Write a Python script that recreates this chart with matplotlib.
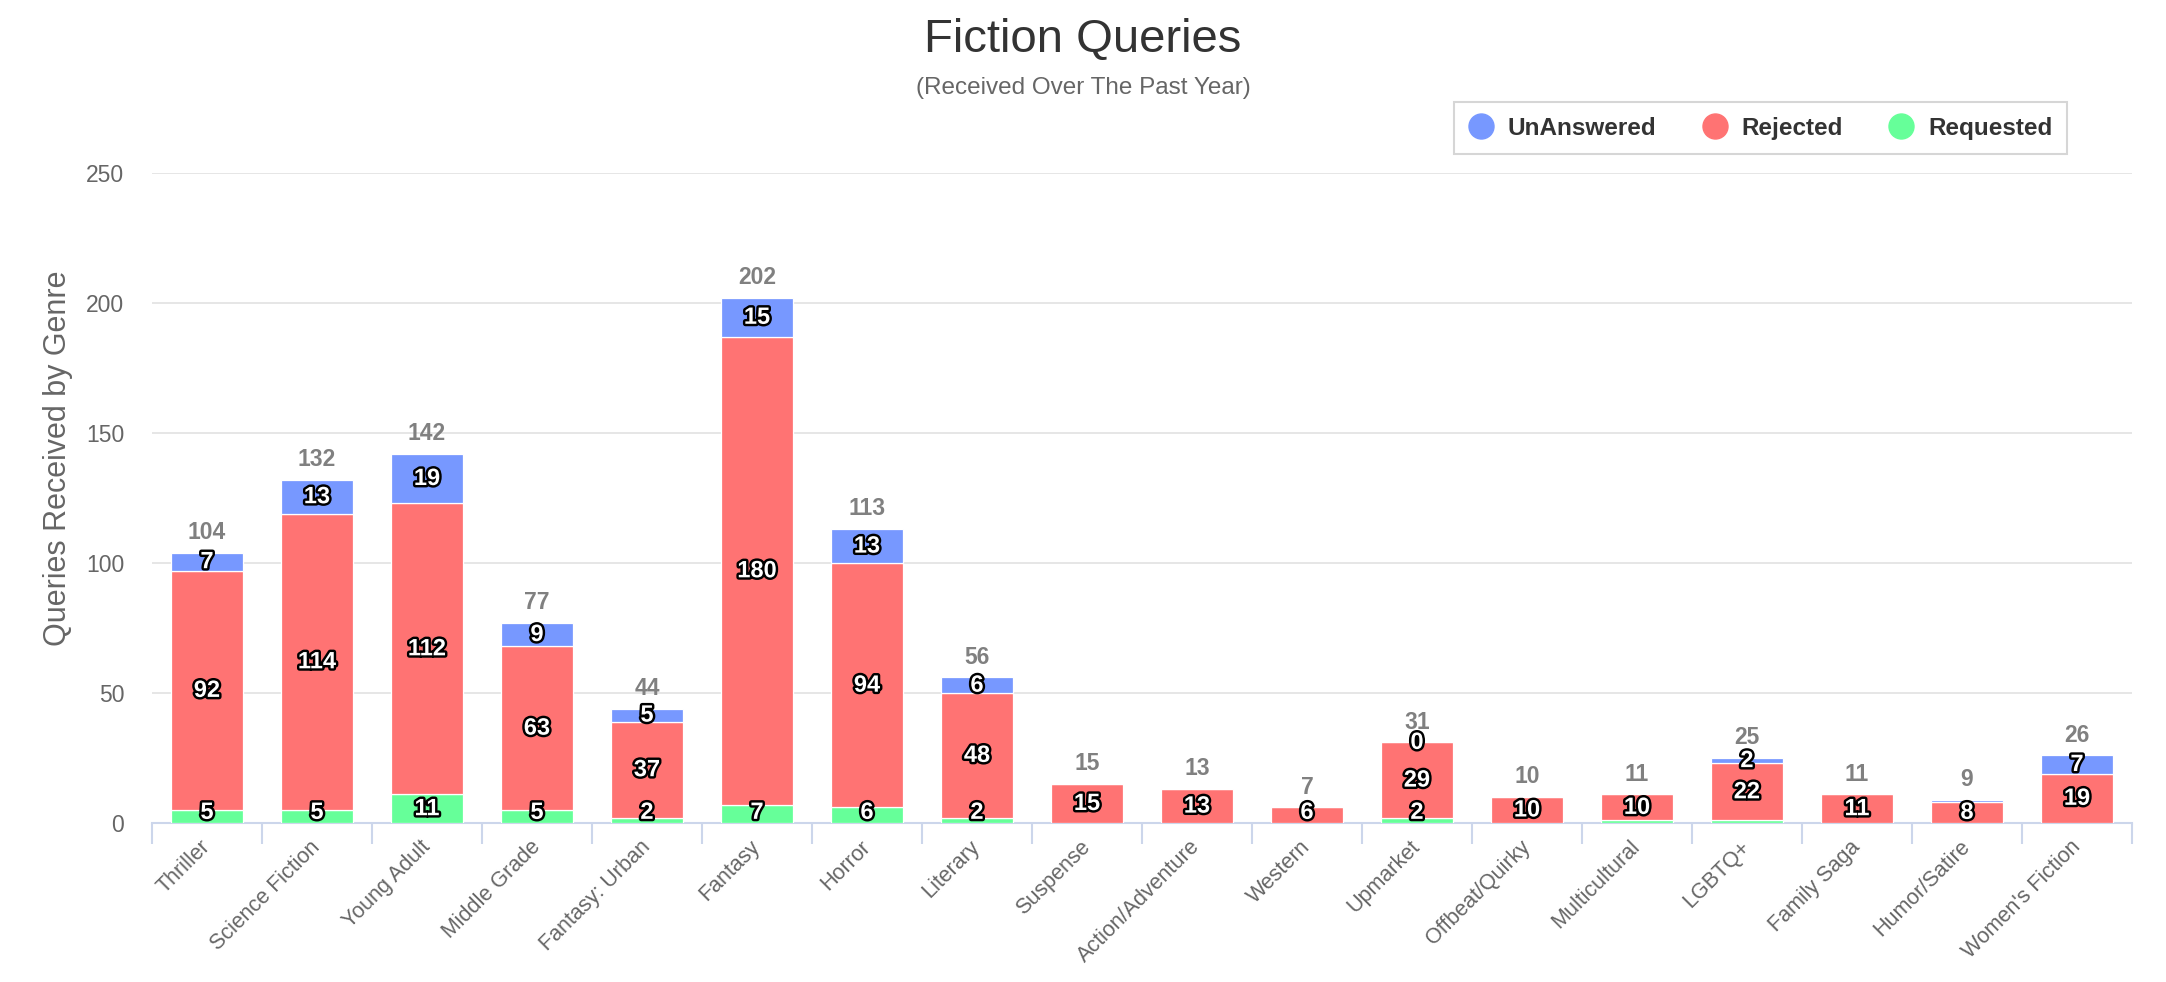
import matplotlib
matplotlib.use("Agg")
from matplotlib import pyplot as plt
from matplotlib import patheffects
from matplotlib.lines import Line2D

plt.rcParams['font.family'] = ['Liberation Sans', 'DejaVu Sans']

genres = ["Thriller", "Science Fiction", "Young Adult", "Middle Grade", "Fantasy: Urban",
	"Fantasy", "Horror", "Literary", "Suspense", "Action/Adventure", "Western", "Upmarket",
	"Offbeat/Quirky", "Multicultural", "LGBTQ+", "Family Saga", "Humor/Satire", "Women's Fiction"]

# None = no point in that series (no bar, no label)
unanswered = [7, 13, 19, 9, 5, 15, 13, 6, None, None, None, 0, None, None, 2, None, 1, 7]
rejected = [92, 114, 112, 63, 37, 180, 94, 48, 15, 13, 6, 29, 10, 10, 22, 11, 8, 19]
requested = [5, 5, 11, 5, 2, 7, 6, 2, None, None, None, 2, None, 1, 1, None, None, None]
totals = [104, 132, 142, 77, 44, 202, 113, 56, 15, 13, 7, 31, 10, 11, 25, 11, 9, 26]

series_names = ["UnAnswered", "Rejected", "Requested"]
colors = {"UnAnswered": "#7798ff", "Rejected": "#ff7373", "Requested": "#66ff99"}

W, H = 2166, 982
fig = plt.figure(figsize=(W / 100, H / 100), dpi=100)
left, right, bottom, top = 152, 2132, 823, 173
ax = fig.add_axes([left / W, 1 - bottom / H, (right - left) / W, (bottom - top) / H])

YMAX = 250
px_per_unit = (bottom - top) / YMAX
x = list(range(len(genres)))

def vals(lst):
	return [0 if v is None else v for v in lst]

# stack bottom-up: Requested, Rejected, UnAnswered
req_v = vals(requested)
rej_v = vals(rejected)
un_v = vals(unanswered)
rej_bottom = req_v
un_bottom = [a + b for a, b in zip(req_v, rej_v)]
stack_top = [a + b for a, b in zip(un_bottom, un_v)]

bar_w = 0.65
edge = dict(edgecolor="white", linewidth=0.9, zorder=3)
ax.bar(x, req_v, width=bar_w, color=colors["Requested"], **edge)
ax.bar(x, rej_v, bottom=rej_bottom, width=bar_w, color=colors["Rejected"], **edge)
ax.bar(x, un_v, bottom=un_bottom, width=bar_w, color=colors["UnAnswered"], **edge)

# data labels, bigger segments first, skip overlapping ones
outline = [patheffects.withStroke(linewidth=3.5, foreground="black")]
min_center = 4.1
gap_units = 24 / px_per_unit
for i in x:
	cands = []
	for raw, base in ((unanswered[i], un_bottom[i]), (rejected[i], rej_bottom[i]), (requested[i], 0)):
		if raw is None:
			continue
		cands.append((raw, max(base + raw / 2, min_center)))
	cands.sort(key=lambda c: -c[0])
	placed = []
	for v, yc in cands:
		if any(abs(yc - p) < gap_units for p in placed):
			continue
		placed.append(yc)
		ax.text(i, yc, str(v), ha="center", va="center", fontsize=17, fontweight="bold",
			color="white", path_effects=outline, zorder=5)

# stack totals
for i in x:
	ax.annotate(str(totals[i]), (i, stack_top[i]), xytext=(0, 10), textcoords="offset points",
		ha="center", va="baseline", fontsize=16.5, fontweight="bold", color="#808080", zorder=5)

ax.set_xlim(-0.5, len(genres) - 0.5)
ax.set_ylim(0, YMAX)
ax.set_yticks([0, 50, 100, 150, 200, 250])
ax.yaxis.grid(True, color="#e6e6e6", linewidth=1.4, zorder=0)
ax.set_axisbelow(True)
for s in ["top", "right", "left"]:
	ax.spines[s].set_visible(False)
ax.spines["bottom"].set_color("#ccd6eb")
ax.spines["bottom"].set_linewidth(1.5)
ax.tick_params(axis="y", length=0, pad=20, labelsize=16.5, labelcolor="#666666")

# ticks between categories, labels at centers
ax.set_xticks([i - 0.5 for i in range(len(genres) + 1)])
ax.set_xticklabels([])
ax.tick_params(axis="x", which="major", length=15, width=1.5, color="#ccd6eb", direction="out")
ax.set_xticks(x, minor=True)
ax.set_xticklabels(genres, minor=True, rotation=45, ha="right", va="center",
	rotation_mode="anchor", fontsize=15.5, color="#666666")
ax.tick_params(axis="x", which="minor", length=0, pad=15)

fig.text(58 / W, 1 - 458 / H, "Queries Received by Genre", rotation=90, ha="center", va="center",
	fontsize=22, color="#666666")

fig.text(0.5, 1 - 52 / H, "Fiction Queries", ha="center", va="baseline", fontsize=34, color="#333333")
fig.text(0.5, 1 - 94 / H, "(Received Over The Past Year)", ha="center", va="baseline",
	fontsize=17.5, color="#666666")

handles = [Line2D([], [], linestyle="", marker="o", markersize=18, color=colors[n]) for n in series_names]
leg = fig.legend(handles, series_names, loc="upper right", bbox_to_anchor=(2079 / W, 1 - 90 / H),
	ncol=3, fontsize=17.5, frameon=True, fancybox=False, handlelength=1.0, handletextpad=0.6,
	columnspacing=1.9, borderpad=0.6)
leg.get_frame().set_edgecolor("#cccccc")
leg.get_frame().set_linewidth(1.5)
for t in leg.get_texts():
	t.set_fontweight("bold")
	t.set_color("#333333")

plt.savefig("out.png", dpi=100)
